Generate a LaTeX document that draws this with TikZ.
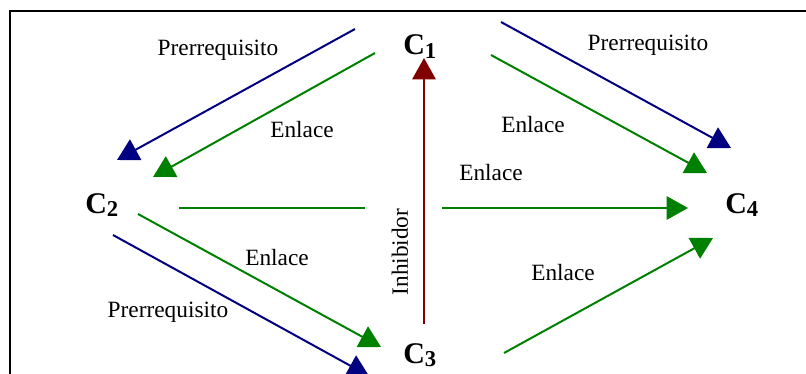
\documentclass[tikz,border=0pt]{standalone}
\usepackage{fontspec}
\setmainfont{Liberation Serif}
\usetikzlibrary{arrows.meta}
\definecolor{navyb}{RGB}{0,0,128}
\definecolor{grn}{RGB}{0,128,0}
\definecolor{dred}{RGB}{128,0,0}
\tikzset{
  conn/.style={line width=1.5pt, -{Triangle[length=16pt,width=17.5pt]}},
  prereq/.style={conn, draw=navyb},
  enlace/.style={conn, draw=grn},
  enlaceplain/.style={line width=1.5pt, draw=grn},
  inhib/.style={conn, draw=dred},
  lbl/.style={inner sep=0pt, font=\fontsize{17.5}{20}\selectfont},
  concept/.style={inner sep=0pt, anchor=base west, font=\bfseries\fontsize{22.5}{24}\selectfont},
  frame/.style={line width=1.6pt, draw=black}
}
\newcommand{\conc}[1]{C\raisebox{-2.6pt}{\fontsize{17}{18}\selectfont #1}}
\begin{document}
\begin{tikzpicture}[x=0.75pt,y=-0.75pt]
\useasboundingbox (0,0) rectangle (806,374);
% frame (cut off on right and bottom)
\coordinate (fbl) at (10,374);
\coordinate (ftl) at (10,11);
\coordinate (ftr) at (806,11);
\draw[frame] (fbl) -- (ftl) -- (ftr);
% concepts
\node[concept] (c1) at (403,55) {\conc{1}};
\node[concept] (c2) at (85,213) {\conc{2}};
\node[concept] (c3) at (403,363) {\conc{3}};
\node[concept] (c4) at (725,213) {\conc{4}};
% connector end points
\coordinate (p12s) at (355,29);  \coordinate (p12e) at (117,160);
\coordinate (e12s) at (375,53);  \coordinate (e12e) at (153,177);
\coordinate (p14s) at (501,22);  \coordinate (p14e) at (731,148);
\coordinate (e14s) at (491,55);  \coordinate (e14e) at (707,173);
\coordinate (e24a) at (179,208); \coordinate (e24b) at (365,208);
\coordinate (e24c) at (442,208); \coordinate (e24d) at (688,208);
\coordinate (e23s) at (138,214); \coordinate (e23e) at (381,347);
\coordinate (p23s) at (113,235); \coordinate (p23e) at (369,376);
\coordinate (e34s) at (504,353); \coordinate (e34e) at (713,238);
\coordinate (i31s) at (424,324); \coordinate (i31e) at (424,58);
% connectors
\draw[prereq] (p12s) -- (p12e);
\draw[enlace] (e12s) -- (e12e);
\draw[prereq] (p14s) -- (p14e);
\draw[enlace] (e14s) -- (e14e);
\draw[enlaceplain] (e24a) -- (e24b);
\draw[enlace] (e24c) -- (e24d);
\draw[enlace] (e23s) -- (e23e);
\draw[prereq] (p23s) -- (p23e);
\draw[enlace] (e34s) -- (e34e);
\draw[inhib] (i31s) -- (i31e);
% labels
\node[lbl] (l1) at (218,50) {Prerrequisito};
\node[lbl] (l2) at (302,130) {Enlace};
\node[lbl] (l3) at (648,45) {Prerrequisito};
\node[lbl] (l4) at (533,125) {Enlace};
\node[lbl] (l5) at (491,173) {Enlace};
\node[lbl] (l6) at (277,258) {Enlace};
\node[lbl] (l7) at (168,312) {Prerrequisito};
\node[lbl] (l8) at (563,273) {Enlace};
\node[lbl, rotate=90] (l9) at (400,252) {Inhibidor};
\end{tikzpicture}
\end{document}
